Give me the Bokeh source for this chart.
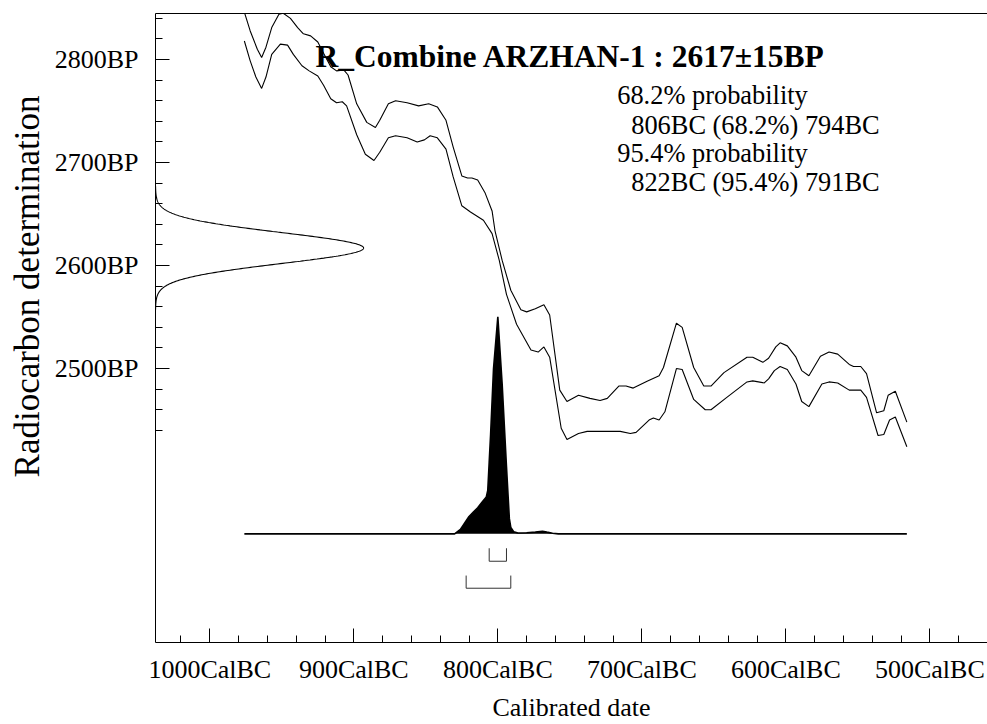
import numpy as np
from bokeh.plotting import figure
from bokeh.models import Range1d, FixedTicker, LinearAxis, Label, Title
from bokeh.embed import file_html
from bokeh.resources import INLINE

# ---------------- data ----------------
title_text = "R_Combine ARZHAN-1 : 2617\u00b115BP"
c14_mean = 2617
c14_sd = 15

# calibration curve envelope (calendar year BC, radiocarbon age BP)
upper_bc = [976, 972, 967, 964, 961, 957, 952, 949, 944, 939, 935, 930, 925, 921, 916, 912,
            907, 904, 898, 891, 885, 882, 876, 871, 863, 855, 848, 842, 836, 831, 825, 821,
            818, 814, 809, 804, 802, 797, 791, 784, 780, 774, 768, 764, 757, 752, 744, 736,
            729, 724, 716, 711, 706, 696, 688, 685, 676, 672, 664, 657, 652, 643, 627, 623,
            616, 612, 607, 604, 599, 593, 589, 584, 576, 570, 564, 556, 553, 548, 544, 537,
            532, 529, 524, 516]
upper_bp = [2846, 2828, 2810, 2802, 2812, 2831, 2844, 2845, 2840, 2831, 2825, 2823, 2817, 2806, 2793, 2789,
            2790, 2785, 2757, 2739, 2734, 2741, 2757, 2760, 2758, 2755, 2757, 2754, 2741, 2715, 2687, 2685,
            2685, 2683, 2671, 2653, 2634, 2605, 2576, 2557, 2555, 2558, 2562, 2552, 2479, 2468, 2474, 2471,
            2469, 2471, 2483, 2483, 2481, 2488, 2493, 2501, 2544, 2540, 2501, 2483, 2483, 2496, 2511, 2511,
            2506, 2510, 2521, 2525, 2522, 2511, 2498, 2493, 2512, 2516, 2514, 2504, 2502, 2502, 2495, 2457,
            2459, 2474, 2478, 2448]

lower_bc = [976, 972, 968, 964, 961, 957, 951, 946, 942, 936, 931, 925, 921, 916, 912, 908,
            905, 898, 892, 886, 882, 876, 871, 863, 856, 851, 847, 842, 836, 831, 825, 819,
            810, 804, 799, 794, 787, 777, 772, 768, 764, 756, 752, 744, 738, 722, 715, 708,
            704, 695, 692, 688, 684, 676, 672, 664, 656, 652, 641, 627, 623, 615, 612, 608,
            604, 599, 593, 589, 584, 575, 570, 564, 556, 553, 548, 544, 536, 532, 528, 524,
            516]
lower_bp = [2818, 2799, 2783, 2772, 2783, 2805, 2815, 2814, 2805, 2794, 2789, 2784, 2775, 2762, 2758, 2759,
            2755, 2727, 2708, 2702, 2710, 2724, 2726, 2724, 2720, 2722, 2726, 2724, 2713, 2686, 2658, 2652,
            2644, 2631, 2605, 2572, 2543, 2518, 2516, 2521, 2511, 2442, 2431, 2437, 2439, 2439, 2439, 2437,
            2438, 2450, 2452, 2450, 2458, 2500, 2499, 2470, 2460, 2460, 2472, 2487, 2488, 2486, 2490, 2498,
            2502, 2499, 2485, 2468, 2463, 2485, 2487, 2486, 2479, 2479, 2479, 2472, 2435, 2436, 2450, 2453,
            2424]

# calibrated probability distribution (relative)
dist_bc = [976, 830, 826, 823, 820, 817, 814, 811, 808, 807, 806, 805, 803, 800, 797, 794,
           792, 791, 789, 786, 780, 774, 769, 766, 762, 758, 516]
dist_p = [0, 0, 0.02, 0.05, 0.08, 0.10, 0.12, 0.145, 0.17, 0.20, 0.33, 0.46, 0.76, 1.0, 0.69, 0.31,
          0.07, 0.03, 0.01, 0.004, 0.005, 0.008, 0.012, 0.008, 0.003, 0, 0]

# highest probability ranges
range68 = [(806, 794)]
range95 = [(822, 791)]

x_major = [1000, 900, 800, 700, 600, 500]
x_minor = list(range(1020, 459, -20))
y_major = [2500, 2600, 2700, 2800]
y_minor = list(range(2440, 2841, 20))

info_lines = ["68.2% probability", "806BC (68.2%) 794BC", "95.4% probability", "822BC (95.4%) 791BC"]
x_title = "Calibrated date"
y_title = "Radiocarbon determination"

# ---------------- layout / style constants ----------------
X0, X1 = -1037.7, -460.0
Y0, Y1 = 2234.0, 2844.7
FONT = "Liberation Serif"
dist_base = 2339.5      # BP level of the distribution baseline
dist_scale = 210.7      # BP height of the max probability
gauss_width = 144.5     # years width of the gaussian peak

p = figure(width=987, height=724, output_backend="svg", toolbar_location=None,
           x_range=Range1d(X0, X1), y_range=Range1d(Y0, Y1),
           min_border_left=155, min_border_top=13, min_border_right=0, min_border_bottom=82)
p.background_fill_color = "white"
p.border_fill_color = "white"
p.outline_line_color = None
p.xgrid.grid_line_color = None
p.ygrid.grid_line_color = None

# axes
xa = p.xaxis[0]
xa.ticker = FixedTicker(ticks=[-v for v in x_major], minor_ticks=[-v for v in x_minor])
xa.major_label_overrides = {-v: f"{v}CalBC" for v in x_major}
ya = p.yaxis[0]
ya.ticker = FixedTicker(ticks=y_major, minor_ticks=y_minor)
ya.major_label_overrides = {v: f"{v}BP" for v in y_major}
for ax in (xa, ya):
    ax.axis_line_color = "black"
    ax.major_tick_line_color = "black"
    ax.minor_tick_line_color = "black"
    ax.major_tick_in = 14
    ax.major_tick_out = 0
    ax.minor_tick_in = 7
    ax.minor_tick_out = 0
    ax.major_label_text_font = FONT
    ax.major_label_text_font_size = "26px"
    ax.major_label_text_color = "black"
    ax.axis_label_text_font = FONT
    ax.axis_label_text_font_size = "26px"
    ax.axis_label_text_font_style = "normal"
    ax.axis_label_text_color = "black"
xa.axis_label = x_title
xa.major_label_standoff = 12
xa.axis_label_standoff = 6
ya.major_label_standoff = 17

top = LinearAxis(ticker=FixedTicker(ticks=[]), axis_line_color="black",
                 major_tick_line_color=None, minor_tick_line_color=None)
p.add_layout(top, "above")

# y axis title, beside the BP scale
p.add_layout(Title(text=y_title, align="right", offset=82, standoff=10, text_font=FONT,
                   text_font_size="35px", text_font_style="normal", text_color="black"), "left")

# calibration curve envelope
p.line([-v for v in upper_bc], upper_bp, line_color="black", line_width=1.1)
p.line([-v for v in lower_bc], lower_bp, line_color="black", line_width=1.1)

# radiocarbon measurement gaussian on the y axis
yy = np.linspace(c14_mean - 4 * c14_sd, c14_mean + 4 * c14_sd, 400)
dens = np.exp(-0.5 * ((yy - c14_mean) / c14_sd) ** 2)
p.line(X0 + dens * gauss_width, yy, line_color="black", line_width=1.1)

# calibrated distribution
dx = np.array([-v for v in dist_bc], dtype=float)
dy = dist_base + np.array(dist_p) * dist_scale
p.varea(x=dx, y1=np.full(len(dx), dist_base), y2=dy, fill_color="black")
p.line(dx, dy, line_color="black", line_width=1.6)

# range brackets
def brackets(ranges, ytop, ybot):
    xs, ys = [], []
    for a, b in ranges:
        xs.append([-a, -a, -b, -b])
        ys.append([ytop, ybot, ybot, ytop])
    return xs, ys

xs, ys = brackets(range68, 2325.5, 2312.9)
p.multi_line(xs, ys, line_color="#333333", line_width=1)
xs, ys = brackets(range95, 2299.0, 2286.7)
p.multi_line(xs, ys, line_color="#333333", line_width=1)

# texts
p.add_layout(Label(x=-926.6, y=2803.4, text=title_text, text_font=FONT, text_font_style="bold",
                   text_font_size="31.5px", text_baseline="alphabetic", text_color="black"))
info_pos = [(-717.1, 2766.0), (-707.4, 2736.9), (-717.1, 2709.2), (-707.4, 2681.1)]
for (x, y), t in zip(info_pos, info_lines):
    p.add_layout(Label(x=x, y=y, text=t, text_font=FONT, text_font_size="26.4px",
                       text_baseline="alphabetic", text_color="black"))

open("out.html", "w").write(file_html(p, INLINE))
